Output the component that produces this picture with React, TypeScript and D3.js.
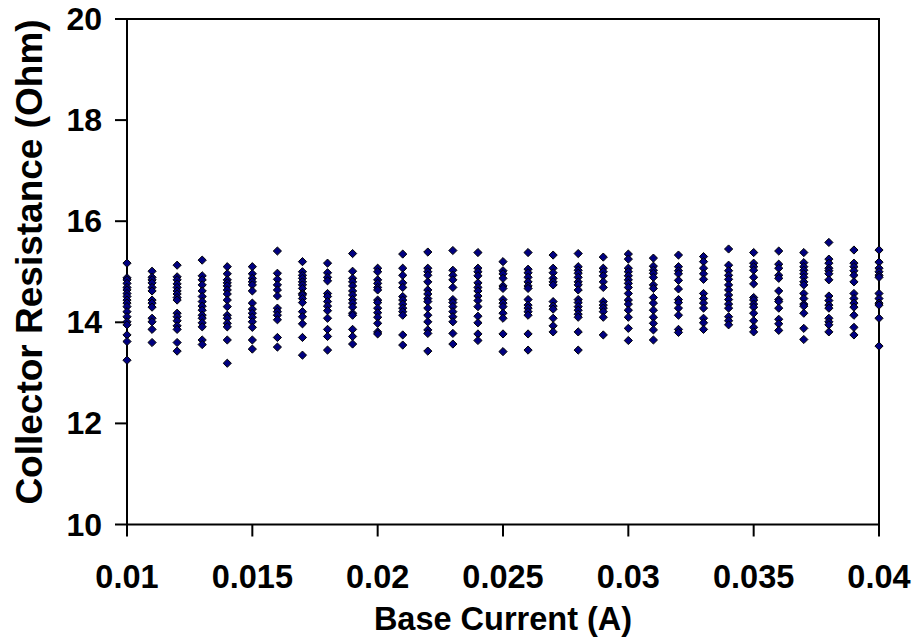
import React from "react";
import * as d3 from "d3";

const baseCurrents = [
  0.01, 0.011, 0.012, 0.013, 0.014, 0.015, 0.016, 0.017, 0.018, 0.019, 0.02,
  0.021, 0.022, 0.023, 0.024, 0.025, 0.026, 0.027, 0.028, 0.029, 0.03, 0.031,
  0.032, 0.033, 0.034, 0.035, 0.036, 0.037, 0.038, 0.039, 0.04,
];

const resistances: number[][] = [
  [15.17, 14.88, 14.84, 14.77, 14.69, 14.64, 14.57, 14.51, 14.44, 14.38, 14.31, 14.21, 14.11, 14.01, 13.95, 13.75, 13.62, 13.25],
  [15.01, 14.89, 14.84, 14.78, 14.69, 14.62, 14.44, 14.38, 14.3, 14.08, 14.01, 13.86, 13.6],
  [15.13, 14.9, 14.84, 14.76, 14.69, 14.62, 14.56, 14.49, 14.44, 14.18, 14.11, 14.03, 13.93, 13.86, 13.6, 13.43],
  [15.23, 14.92, 14.84, 14.74, 14.62, 14.51, 14.41, 14.32, 14.24, 14.14, 14.08, 13.99, 13.91, 13.65, 13.56],
  [15.1, 14.96, 14.84, 14.78, 14.72, 14.64, 14.56, 14.44, 14.31, 14.14, 14.08, 13.98, 13.91, 13.65, 13.19],
  [15.1, 14.96, 14.87, 14.8, 14.74, 14.62, 14.38, 14.26, 14.18, 14.1, 14.01, 13.9, 13.65, 13.47],
  [15.41, 14.97, 14.85, 14.74, 14.64, 14.52, 14.28, 14.21, 14.14, 14.05, 13.7, 13.51],
  [15.2, 15.0, 14.93, 14.87, 14.8, 14.74, 14.67, 14.57, 14.54, 14.47, 14.39, 14.21, 14.11, 13.97, 13.7, 13.35],
  [15.17, 14.98, 14.89, 14.82, 14.57, 14.51, 14.41, 14.32, 14.23, 14.08, 13.86, 13.72, 13.45],
  [15.36, 15.01, 14.87, 14.8, 14.72, 14.62, 14.54, 14.45, 14.38, 14.3, 14.18, 14.14, 13.86, 13.72, 13.57],
  [15.07, 15.0, 14.84, 14.77, 14.69, 14.64, 14.44, 14.39, 14.28, 14.19, 14.1, 13.98, 13.81, 13.77],
  [15.35, 15.07, 14.93, 14.78, 14.69, 14.51, 14.44, 14.36, 14.28, 14.21, 14.14, 13.75, 13.55],
  [15.39, 15.07, 15.0, 14.93, 14.8, 14.64, 14.56, 14.47, 14.41, 14.28, 14.14, 14.01, 13.85, 13.78, 13.43],
  [15.42, 15.03, 14.93, 14.84, 14.69, 14.45, 14.39, 14.31, 14.21, 14.11, 14.01, 13.78, 13.57],
  [15.38, 15.07, 15.0, 14.92, 14.78, 14.69, 14.62, 14.52, 14.43, 14.31, 14.12, 13.99, 13.77, 13.64],
  [15.2, 15.02, 14.96, 14.87, 14.72, 14.67, 14.45, 14.38, 14.31, 14.18, 14.08, 13.77, 13.42],
  [15.38, 15.05, 14.98, 14.89, 14.8, 14.72, 14.67, 14.45, 14.34, 14.28, 14.21, 14.14, 13.77, 13.45],
  [15.33, 15.07, 14.98, 14.87, 14.8, 14.74, 14.41, 14.32, 14.26, 14.08, 13.93, 13.81],
  [15.36, 15.1, 15.03, 14.97, 14.89, 14.8, 14.74, 14.64, 14.45, 14.39, 14.31, 14.24, 14.16, 14.1, 13.81, 13.45],
  [15.29, 15.07, 15.0, 14.92, 14.8, 14.69, 14.41, 14.34, 14.28, 14.21, 14.1, 13.75],
  [15.35, 15.25, 15.07, 15.0, 14.92, 14.84, 14.77, 14.69, 14.57, 14.44, 14.36, 14.24, 14.1, 13.88, 13.64],
  [15.27, 15.11, 15.03, 14.97, 14.89, 14.74, 14.67, 14.49, 14.38, 14.24, 14.1, 13.98, 13.85, 13.65],
  [15.33, 15.1, 15.02, 14.96, 14.83, 14.66, 14.45, 14.39, 14.28, 14.14, 13.86, 13.8],
  [15.3, 15.2, 15.07, 14.96, 14.85, 14.57, 14.47, 14.38, 14.28, 14.08, 13.99, 13.86],
  [15.45, 15.13, 15.02, 14.93, 14.85, 14.74, 14.64, 14.54, 14.45, 14.36, 14.28, 14.11, 14.03, 13.95],
  [15.38, 15.17, 15.1, 15.03, 14.89, 14.76, 14.49, 14.44, 14.36, 14.3, 14.18, 14.03, 13.9, 13.81],
  [15.41, 15.15, 15.07, 14.93, 14.87, 14.62, 14.45, 14.41, 14.28, 14.06, 13.97, 13.84],
  [15.38, 15.18, 15.1, 15.03, 14.96, 14.89, 14.8, 14.74, 14.57, 14.47, 14.36, 14.32, 14.18, 13.88, 13.66],
  [15.58, 15.25, 15.17, 15.07, 15.02, 14.96, 14.84, 14.52, 14.43, 14.34, 14.28, 14.08, 14.01, 13.95, 13.81],
  [15.43, 15.17, 15.1, 15.02, 14.93, 14.8, 14.57, 14.47, 14.38, 14.3, 14.14, 13.9, 13.75],
  [15.43, 15.19, 15.07, 15.0, 14.93, 14.89, 14.57, 14.47, 14.38, 14.34, 14.08, 13.53],
];

const xTicks = [0.01, 0.015, 0.02, 0.025, 0.03, 0.035, 0.04];
const yTicks = [10, 12, 14, 16, 18, 20];
const xTitle = "Base Current (A)";
const yTitle = "Collector Resistance (Ohm)";

const W = 915;
const H = 641;
const left = 127;
const right = 879;
const top = 19;
const bottom = 524.5;
const FONT = "'Liberation Sans', Arial, sans-serif";

export default function App() {
  const x = d3.scaleLinear().domain([0.01, 0.04]).range([left, right]);
  const y = d3.scaleLinear().domain([10, 20]).range([bottom, top]);
  const r = 4.1;
  const diamond = (cx: number, cy: number) =>
    `M${cx},${cy - r}L${cx + r},${cy}L${cx},${cy + r}L${cx - r},${cy}Z`;

  const points: { bx: number; v: number }[] = [];
  baseCurrents.forEach((bx, i) => {
    resistances[i].forEach((v) => points.push({ bx, v }));
  });

  return (
    <svg
      width={W}
      height={H}
      style={{ position: "absolute", left: 0, top: 0, background: "#fff" }}
      fontFamily={FONT}
      fontWeight="bold"
    >
      <rect x={0} y={0} width={W} height={H} fill="#fff" />
      <rect
        x={left}
        y={top}
        width={right - left}
        height={bottom - top}
        fill="none"
        stroke="#000"
        strokeWidth={2}
      />
      {yTicks.map((t) => (
        <g key={"y" + t}>
          <line x1={left - 12} x2={left} y1={y(t)} y2={y(t)} stroke="#000" strokeWidth={2} />
          <text
            x={102}
            y={y(t)}
            textAnchor="end"
            dominantBaseline="central"
            fontSize={32}
            fill="#000"
          >
            {t}
          </text>
        </g>
      ))}
      {xTicks.map((t) => (
        <g key={"x" + t}>
          <line x1={x(t)} x2={x(t)} y1={bottom} y2={bottom + 12} stroke="#000" strokeWidth={2} />
          <text x={x(t)} y={588} textAnchor="middle" fontSize={32.5} fill="#000">
            {t}
          </text>
        </g>
      ))}
      <text x={(left + right) / 2 + 0} y={630} textAnchor="middle" fontSize={32.5} fill="#000">
        {xTitle}
      </text>
      <text
        transform={`translate(42,${262}) rotate(-90)`}
        textAnchor="middle"
        fontSize={37}
        fill="#000"
      >
        {yTitle}
      </text>
      {points.map((p, i) => (
        <path
          key={i}
          d={diamond(x(p.bx), y(p.v))}
          fill="#000080"
          stroke="#000"
          strokeWidth={1}
        />
      ))}
    </svg>
  );
}
